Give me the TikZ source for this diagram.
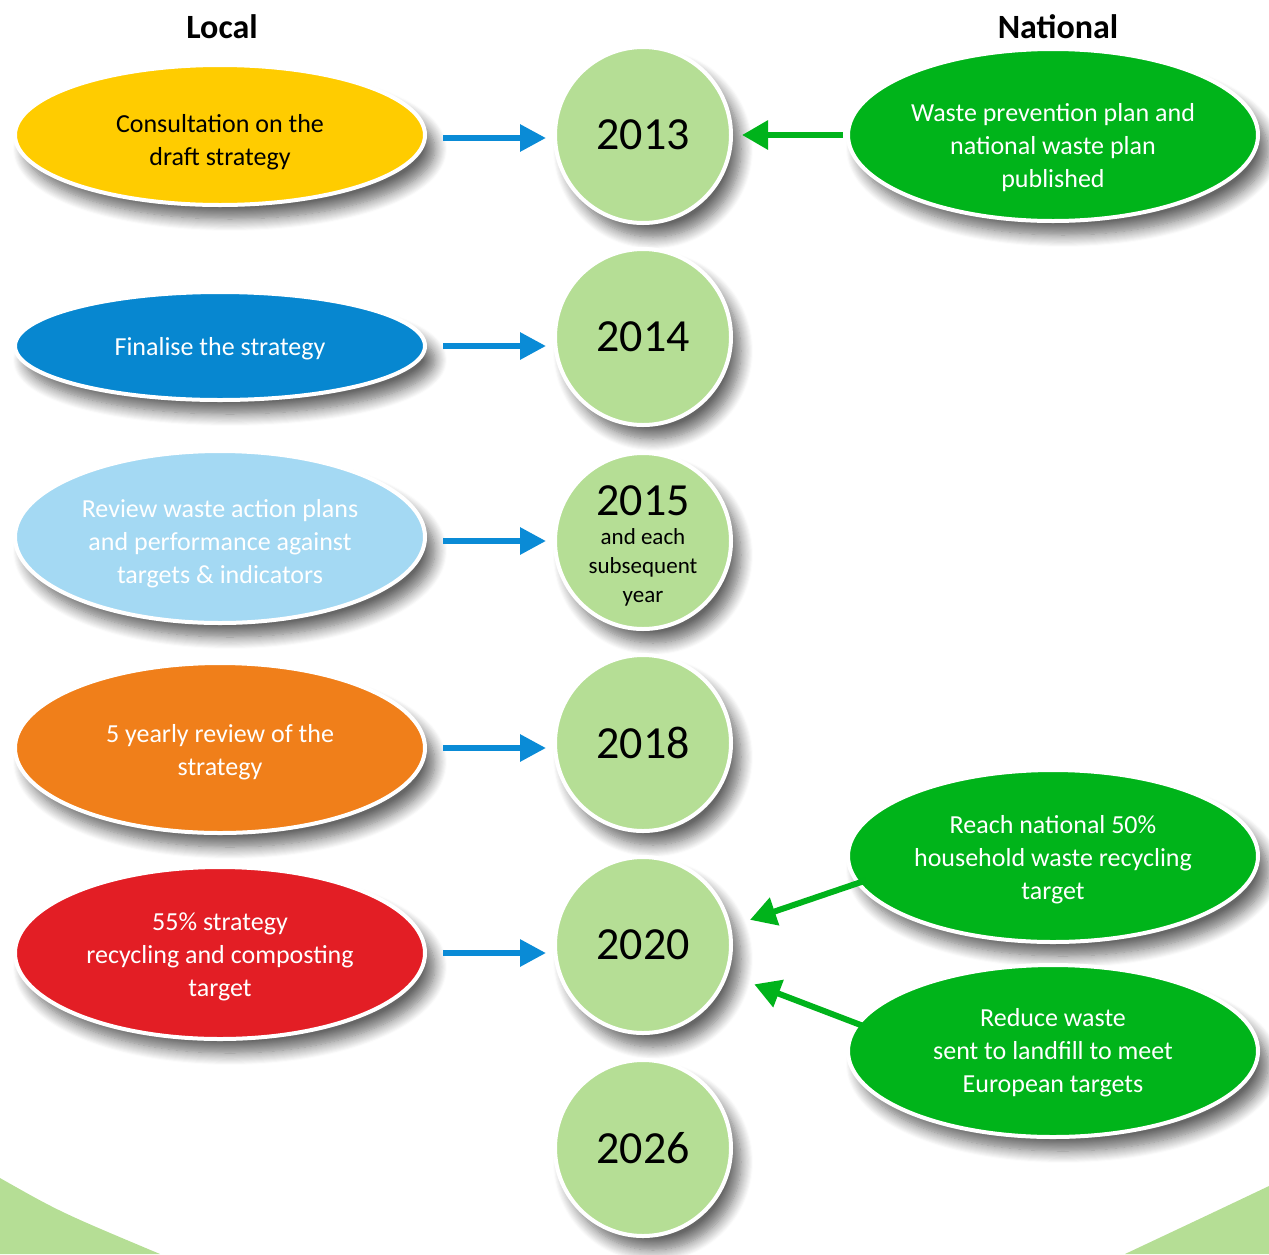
\documentclass[tikz,border=0pt]{standalone}
\usepackage{fontspec}
\setmainfont{Carlito}
\usetikzlibrary{shapes.geometric,arrows.meta,shadows.blur}
\definecolor{cyellow}{HTML}{FFCC00}
\definecolor{cblue}{HTML}{0787D0}
\definecolor{clight}{HTML}{A4D9F3}
\definecolor{corange}{HTML}{F07F1A}
\definecolor{cred}{HTML}{E31E25}
\definecolor{cyear}{HTML}{B5DE95}
\definecolor{cnat}{HTML}{00B41A}
\definecolor{carrowb}{HTML}{0A8BD6}
\definecolor{carrowg}{HTML}{00B31B}
\begin{document}
\begin{tikzpicture}[x=0.5pt,y=-0.5pt,
  shad/.style={blur shadow={shadow xshift=5pt,shadow yshift=-7pt,shadow blur steps=12,shadow blur radius=6pt,shadow opacity=60}},
  ev/.style={ellipse, draw=white, line width=2pt, minimum width=205pt, inner sep=0pt, shad},
  nat/.style={ev, fill=cnat, minimum height=86pt},
  txt/.style={align=center, inner sep=0pt, font=\fontsize{13}{16.5}\selectfont},
  yr/.style={circle, draw=white, line width=2pt, fill=cyear, minimum size=88pt, inner sep=0pt,
     align=center, font=\fontsize{23}{26}\selectfont, shad},
  barrow/.style={draw=carrowb, line width=3pt, -{Triangle[width=13pt,length=13pt]}, shorten <=8pt, shorten >=3.5pt},
  garrow/.style={draw=carrowg, line width=3pt, -{Triangle[width=14pt,length=13pt]}},
  head/.style={font=\fontsize{17}{20}\selectfont\bfseries}
]
\useasboundingbox (0,0) rectangle (1269,1254);
% bottom corner decorations
\fill[cyear] (0,1178) .. controls (60,1212) .. (160,1254) -- (0,1254) -- cycle;
\fill[cyear] (1269,1186) .. controls (1210,1214) .. (1125,1254) -- (1269,1254) -- cycle;

\node[head] (local) at (222,27) {Local};
\node[head] (national) at (1058,27) {National};

% year circles
\node[yr] (c13) at (643,135) {2013};
\node[yr] (c14) at (643,337) {2014};
\node[yr] (c15) at (643,541) {};
\node[txt, font=\fontsize{11.5}{14.5}\selectfont] (c15t) at ([yshift=-2.5pt]c15.center)
  {\fontsize{23}{26}\selectfont 2015\\[0pt]and each\\subsequent\\year};
\node[yr] (c18) at (643,743) {2018};
\node[yr] (c20) at (643,945) {2020};
\node[yr] (c26) at (643,1148) {2026};

% local ellipses
\node[ev, fill=cyellow, minimum height=70pt] (l1) at (220,135) {};
\node[txt, text=black] (l1t) at ([yshift=-3.5pt]l1.center) {Consultation on the\\draft strategy};
\node[ev, fill=cblue, minimum height=54pt] (l2) at (220,346) {};
\node[txt, text=white] (l2t) at ([yshift=-1.5pt]l2.center) {Finalise the strategy};
\node[ev, fill=clight, minimum height=86pt] (l3) at (220,537) {};
\node[txt, text=white] (l3t) at ([yshift=-3.5pt]l3.center) {Review waste action plans\\and performance against\\targets \& indicators};
\node[ev, fill=corange, minimum height=85pt] (l4) at (220,748) {};
\node[txt, text=white] (l4t) at ([yshift=-2pt]l4.center) {5 yearly review of the\\strategy};
\node[ev, fill=cred, minimum height=86pt] (l5) at (220,953) {};
\node[txt, text=white] (l5t) at ([yshift=-2pt]l5.center) {55\% strategy\\recycling and composting\\target};

% national ellipses
\node[nat] (n1) at (1053,135) {};
\node[txt, text=white] (n1t) at ([yshift=-6.5pt]n1.center) {Waste prevention plan and\\national waste plan\\published};
\node[nat] (n2) at (1053,856) {};
\node[txt, text=white] (n2t) at ([yshift=-2pt]n2.center) {Reach national 50\%\\household waste recycling\\target};
\node[nat] (n3) at (1053,1051) {};
\node[txt, text=white] (n3t) at ([yshift=-1pt]n3.center) {Reduce waste\\sent to landfill to meet\\European targets};

% blue arrows
\draw[barrow] ([yshift=-1.5pt]l1.east) -- ([yshift=-1.5pt]l1.east -| c13.west);
\draw[barrow] (l2.east) -- (l2.east -| c14.west);
\draw[barrow] ([yshift=-2pt]l3.east) -- ([yshift=-2pt]l3.east -| c15.west);
\draw[barrow] (l4.east) -- (l4.east -| c18.west);
\draw[barrow] (l5.east) -- (l5.east -| c20.west);

% green arrows
\draw[garrow, shorten <=1.5pt, shorten >=4.5pt] (n1.west) -- (c13.east);
\draw[garrow, shorten <=-5pt, shorten >=10pt] (n2.188) -- (c20.12);
\draw[garrow, shorten <=-5pt, shorten >=14pt] (n3.172) -- (c20.-19);
\end{tikzpicture}
\end{document}
